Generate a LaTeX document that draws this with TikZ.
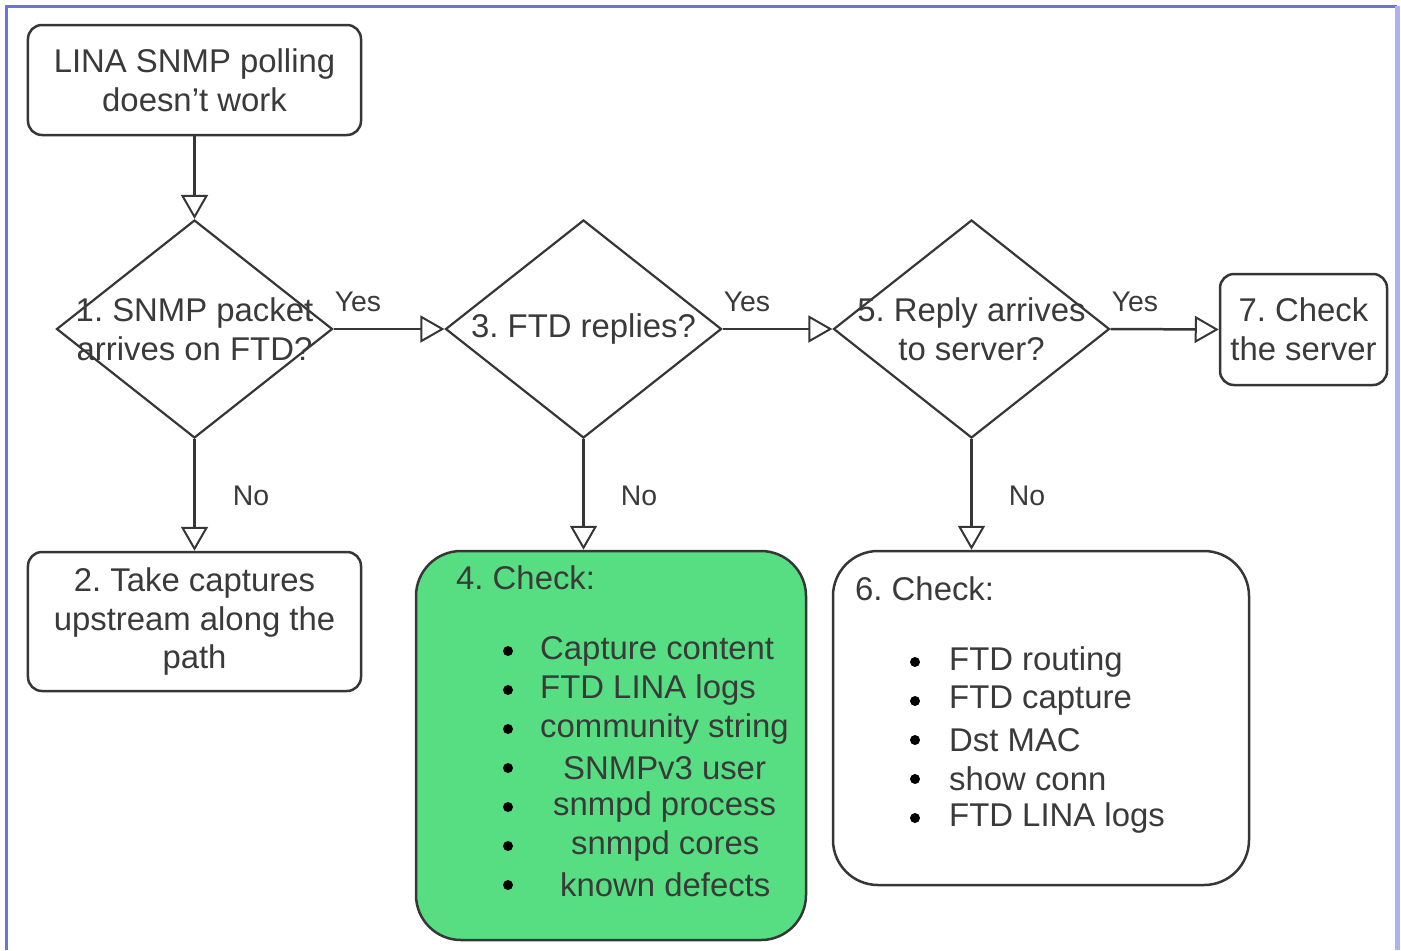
\documentclass[tikz,border=0pt]{standalone}
\usepackage{fontspec}
\setmainfont{Liberation Sans}
\usetikzlibrary{shapes.geometric,arrows.meta,positioning}
\frenchspacing

\definecolor{edgegray}{HTML}{363636}
\definecolor{textgray}{HTML}{3A3A3A}
\definecolor{checkgreen}{HTML}{58DE82}
\definecolor{frameblue}{HTML}{6C74DA}
\definecolor{framelight}{HTML}{B0B2F0}

\newcommand{\flowfont}{\fontsize{33}{39}\selectfont}
\newcommand{\answerfont}{\fontsize{28.5}{32}\selectfont}

\tikzset{
  flowbox/.style={draw=edgegray, line width=2.5bp, rounded corners=14bp,
    align=center, inner sep=0pt, text=textgray, font=\flowfont},
  bigbox/.style={draw=edgegray, line width=2.5bp, rounded corners=45bp, inner sep=0pt},
  decision/.style={draw=edgegray, diamond, line width=2.2bp, inner sep=0pt,
    minimum width=276bp, minimum height=218bp},
  decisiontext/.style={align=center, text=textgray, font=\flowfont, inner sep=0pt},
  flowarrow/.style={draw=edgegray, line width=2.5bp,
    -{Triangle[open, length=24bp, width=27bp, line width=2bp]}},
  answer/.style={text=textgray, font=\answerfont, inner sep=0pt},
  itemtext/.style={anchor=west, text=textgray, font=\flowfont, inner sep=0pt},
  dot/.style={circle, fill=black, inner sep=0pt, minimum size=10bp}
}

\begin{document}
\begin{tikzpicture}[x=1bp, y=-1bp]
  \useasboundingbox (0,0) rectangle (1401,950);
  % frame
  \draw[frameblue, line width=3bp] (6,950) -- (6,6) -- (1397,6);
  \draw[framelight, line width=5bp] (1397,6) -- (1397,950);

  % top row
  \node[flowbox, minimum width=333bp, minimum height=110bp] (start) at (194.5,80)
    {LINA SNMP polling\\doesn't work};
  \node[decision] (qarrive) at (194.5,329) {};
  \node[decisiontext] at (qarrive.center) {1. SNMP packet\\arrives on FTD?};
  \node[decision] (qreply) at (583.5,329) {};
  \node[decisiontext] at (qreply.center) {3. FTD replies?};
  \node[decision] (qserver) at (971.5,329) {};
  \node[decisiontext] at (qserver.center) {5. Reply arrives\\to server?};
  \node[flowbox, minimum width=167bp, minimum height=111bp] (checkserver) at (1303.5,329.5)
    {7. Check\\the server};

  % bottom row
  \node[flowbox, minimum width=333bp, minimum height=139bp] (checkpath) at (194.5,621.5)
    {2. Take captures\\upstream along the\\path};
  \node[bigbox, fill=checkgreen, minimum width=390bp, minimum height=389bp] (checkreply) at (611,745.5) {};
  \node[itemtext] (replyhead) at (456,578) {4. Check:};
  \foreach \txt/\xx [count=\i from 0] in {Capture content/540, FTD LINA logs/540,
      community string/540, SNMPv3 user/563, snmpd process/553, snmpd cores/571,
      known defects/560} {
    \node[dot] at (508,651+39*\i) {};
    \node[itemtext] at (\xx,651+39*\i) {\txt};
  }
  \node[bigbox, minimum width=416bp, minimum height=334bp] (checkroute) at (1041,718) {};
  \node[itemtext] (routehead) at (855,589) {6. Check:};
  \foreach \txt [count=\i from 0] in {FTD routing, FTD capture, Dst MAC, show conn, FTD LINA logs} {
    \node[dot] at (915,662+39*\i) {};
    \node[itemtext] at (949,662+39*\i) {\txt};
  }

  % connectors
  \draw[flowarrow] (start) -- (qarrive.north);
  \draw[flowarrow] (qarrive.east) -- (qreply.west);
  \draw[flowarrow] (qreply.east) -- (qserver.west);
  \draw[flowarrow] (qserver.east) -- (checkserver.west);
  \draw[flowarrow] (qarrive.south) -- (checkpath.north);
  \draw[flowarrow] (qreply.south) -- (qreply.south |- checkreply.north);
  \draw[flowarrow] (qserver.south) -- (qserver.south |- checkroute.north);

  \node[answer] at (358,302) {Yes};
  \node[answer] at (747,302) {Yes};
  \node[answer] at (1135,302) {Yes};
  \node[answer] at (251,496) {No};
  \node[answer] at (639,496) {No};
  \node[answer] at (1027,496) {No};
\end{tikzpicture}
\end{document}
